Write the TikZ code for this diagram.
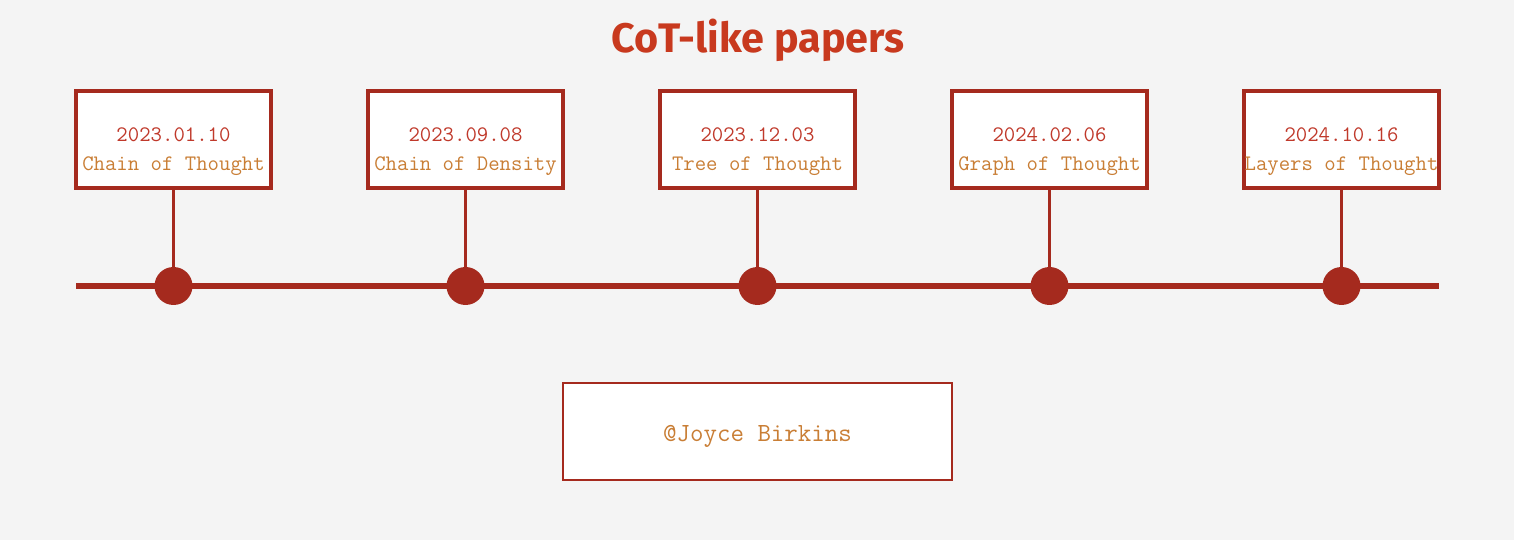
\documentclass[tikz,border=0pt]{standalone}
\usepackage{fontspec}
\newfontfamily\titlefont{Fira Sans}
\usetikzlibrary{positioning}

\definecolor{paper}{HTML}{F4F4F4}
\definecolor{tlred}{HTML}{A52A1E}
\definecolor{datered}{HTML}{C0392B}
\definecolor{nameorange}{HTML}{C97E35}
\definecolor{titlered}{HTML}{C8391E}

\begin{document}
\begin{tikzpicture}[x=0.02cm,y=-0.02cm,
    paperbox/.style={draw=tlred, line width=1.9pt, fill=white,
                     minimum width=195*0.02cm, minimum height=97*0.02cm, inner sep=0pt},
    papertext/.style={align=center, font=\ttfamily\fontsize{12.6}{16.4}\selectfont, inner sep=0pt},
    dot/.style={circle, fill=tlred, minimum size=38*0.02cm, inner sep=0pt},
    stem/.style={draw=tlred, line width=1.7pt}]

  \fill[paper] (0,0) rectangle (1514,540);

  \node [font=\titlefont\bfseries\fontsize{23.5}{28}\selectfont, text=titlered] (title) at (758,40) {CoT-like papers};

  % axis
  \coordinate (start) at (76,286);
  \coordinate (end) at (1439,286);
  \draw [tlred, line width=3.4pt] (start) -- (end);

  \node [paperbox] (p1) at (173.5,139.5) {};
  \node [paperbox] (p2) at (465.5,139.5) {};
  \node [paperbox] (p3) at (757.5,139.5) {};
  \node [paperbox] (p4) at (1049.5,139.5) {};
  \node [paperbox] (p5) at (1341.5,139.5) {};

  \node [papertext] (t1) at (173.5,152) {\textcolor{datered}{2023.01.10}\\\textcolor{nameorange}{Chain of Thought}};
  \node [papertext] (t2) at (465.5,152) {\textcolor{datered}{2023.09.08}\\\textcolor{nameorange}{Chain of Density}};
  \node [papertext] (t3) at (757.5,152) {\textcolor{datered}{2023.12.03}\\\textcolor{nameorange}{Tree of Thought}};
  \node [papertext] (t4) at (1049.5,152) {\textcolor{datered}{2024.02.06}\\\textcolor{nameorange}{Graph of Thought}};
  \node [papertext] (t5) at (1341.5,152) {\textcolor{datered}{2024.10.16}\\\textcolor{nameorange}{Layers of Thought}};

  \node [dot] (m1) at (173.5,286) {};
  \node [dot] (m2) at (465.5,286) {};
  \node [dot] (m3) at (757.5,286) {};
  \node [dot] (m4) at (1049.5,286) {};
  \node [dot] (m5) at (1341.5,286) {};

  \path [stem] (p1.south) -- (m1);
  \path [stem] (p2.south) -- (m2);
  \path [stem] (p3.south) -- (m3);
  \path [stem] (p4.south) -- (m4);
  \path [stem] (p5.south) -- (m5);

  % signature
  \node [draw=tlred, line width=1.1pt, fill=white, minimum width=389*0.02cm,
         minimum height=97*0.02cm, inner sep=0pt] (sigbox) at (757.5,431.5) {};
  \node [font=\ttfamily\fontsize{14.9}{18}\selectfont, text=nameorange] (sig) at (757.5,436) {@Joyce Birkins};
\end{tikzpicture}
\end{document}
